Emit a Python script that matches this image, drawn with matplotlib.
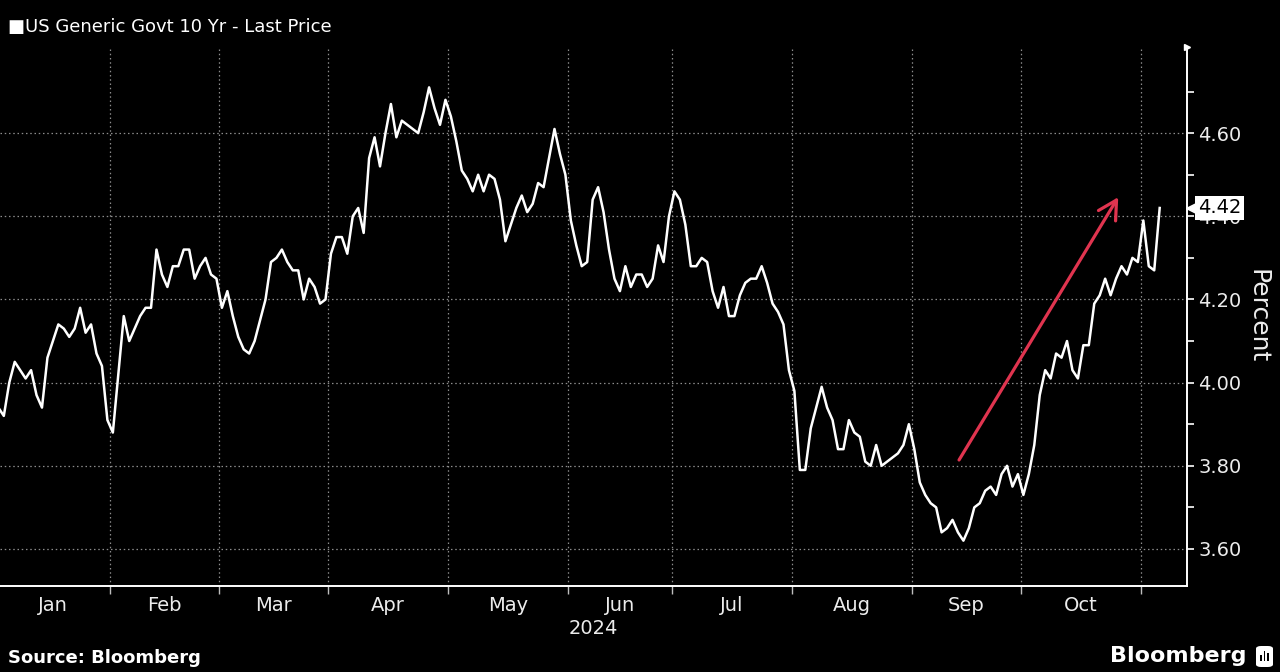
import matplotlib
matplotlib.use("Agg")
import matplotlib.pyplot as plt
import matplotlib.transforms as mtransforms
import numpy as np
import pandas as pd
from matplotlib import font_manager
from matplotlib.patches import FancyBboxPatch, Rectangle
from matplotlib.ticker import FixedLocator, FormatStrFormatter, NullFormatter

# US Generic Govt 10 Yr yield, one value per bond-market trading day
jan = [3.94, 3.92, 4.00, 4.05, 4.03, 4.01, 4.03, 3.97, 3.94, 4.06, 4.10, 4.14, 4.13, 4.11,
       4.13, 4.18, 4.12, 4.14, 4.07, 4.04, 3.91]
feb = [3.88, 4.02, 4.16, 4.10, 4.13, 4.16, 4.18, 4.18, 4.32, 4.26, 4.23, 4.28, 4.28, 4.32,
       4.32, 4.25, 4.28, 4.30, 4.26, 4.25]
mar = [4.18, 4.22, 4.16, 4.11, 4.08, 4.07, 4.10, 4.15, 4.20, 4.29, 4.30, 4.32, 4.29, 4.27,
       4.27, 4.20, 4.25, 4.23, 4.19, 4.20]
apr = [4.31, 4.35, 4.35, 4.31, 4.40, 4.42, 4.36, 4.54, 4.59, 4.52, 4.60, 4.67, 4.59, 4.63,
       4.62, 4.61, 4.60, 4.65, 4.71, 4.66, 4.62, 4.68]
may = [4.64, 4.58, 4.51, 4.49, 4.46, 4.50, 4.46, 4.50, 4.49, 4.44, 4.34, 4.38, 4.42, 4.45,
       4.41, 4.43, 4.48, 4.47, 4.54, 4.61, 4.55, 4.50]
jun = [4.39, 4.33, 4.28, 4.29, 4.44, 4.47, 4.41, 4.32, 4.25, 4.22, 4.28, 4.23, 4.26, 4.26,
       4.23, 4.25, 4.33, 4.29, 4.40]
jul = [4.46, 4.44, 4.38, 4.28, 4.28, 4.30, 4.29, 4.22, 4.18, 4.23, 4.16, 4.16, 4.21, 4.24,
       4.25, 4.25, 4.28, 4.24, 4.19, 4.17, 4.14, 4.03]
aug = [3.98, 3.79, 3.79, 3.89, 3.94, 3.99, 3.94, 3.91, 3.84, 3.84, 3.91, 3.88, 3.87, 3.81,
       3.80, 3.85, 3.80, 3.81, 3.82, 3.83, 3.85, 3.90]
sep = [3.84, 3.76, 3.73, 3.71, 3.70, 3.64, 3.65, 3.67, 3.64, 3.62, 3.65, 3.70, 3.71, 3.74,
       3.75, 3.73, 3.78, 3.80, 3.75, 3.78]
oct = [3.73, 3.78, 3.85, 3.97, 4.03, 4.01, 4.07, 4.06, 4.10, 4.03, 4.01, 4.09, 4.09, 4.19,
       4.21, 4.25, 4.21, 4.25, 4.28, 4.26, 4.30, 4.29]
nov = [4.39, 4.28, 4.27, 4.42]

holidays = ["2024-01-15", "2024-02-19", "2024-03-29", "2024-05-27",
            "2024-06-19", "2024-07-04", "2024-09-02", "2024-10-14"]
month_names = ["Jan", "Feb", "Mar", "Apr", "May", "Jun", "Jul", "Aug", "Sep", "Oct"]

title = "\u25a0US Generic Govt 10 Yr - Last Price"
last_label = "4.42"

yields = jan + feb + mar + apr + may + jun + jul + aug + sep + oct + nov
dates = pd.bdate_range("2024-01-02", "2024-11-06", freq="C", holidays=holidays)
assert len(dates) == len(yields)
idx = np.arange(len(dates))
months = dates.month.values

# month boundaries (between last day of one month and first of next) and centres
bounds = [i - 0.5 for i in range(1, len(idx)) if months[i] != months[i - 1]]
centres = [idx[months == m].mean() for m in range(1, 11)]

# font: a narrow face is closer to the Bloomberg look if it is there
names = {f.name for f in font_manager.fontManager.ttflist}
narrow = "Liberation Sans Narrow" in names
fam = ["Liberation Sans Narrow", "DejaVu Sans"] if narrow else ["DejaVu Sans"]
plt.rcParams["font.family"] = fam
tick_fs = 17 if narrow else 14

fig = plt.figure(figsize=(12.8, 6.72), dpi=100, facecolor="black")
ax = fig.add_axes([0, 0.128, 0.9273, 0.802])
ax.set_facecolor("black")

ax.plot(idx, yields, color="white", lw=1.8, zorder=4)

ax.set_xlim(0.3, 218.0)
ax.set_ylim(3.511, 4.807)

# spines
for s in ["left", "top"]:
    ax.spines[s].set_visible(False)
for s in ["right", "bottom"]:
    ax.spines[s].set_color("white")
    ax.spines[s].set_linewidth(1.4)
ax.plot([1.0], [1.0], marker=">", color="white", markersize=5,
        transform=ax.transAxes, clip_on=False)

# y axis on the right
ax.yaxis.tick_right()
ax.yaxis.set_label_position("right")
ax.yaxis.set_major_locator(FixedLocator(np.arange(3.6, 4.61, 0.2)))
ax.yaxis.set_minor_locator(FixedLocator(np.arange(3.7, 4.71, 0.2)))
ax.yaxis.set_major_formatter(FormatStrFormatter("%.2f"))
ax.tick_params(axis="y", which="both", direction="out", length=5, width=1.2,
               color="white", labelcolor="#ececec", labelsize=tick_fs, pad=3)
ax.set_ylabel("Percent", rotation=270, color="#ececec", fontsize=tick_fs + 4,
              labelpad=20)

# x axis: ticks at month boundaries, labels in the middle of each month
ax.xaxis.set_major_locator(FixedLocator(bounds))
ax.xaxis.set_major_formatter(NullFormatter())
ax.xaxis.set_minor_locator(FixedLocator(centres))
ax.xaxis.set_minor_formatter(matplotlib.ticker.FixedFormatter(month_names))
ax.tick_params(axis="x", which="major", direction="out", length=6, width=1.0,
               color="#bdbdbd")
ax.tick_params(axis="x", which="minor", length=0, pad=7, labelcolor="#ececec",
               labelsize=tick_fs)

ax.grid(True, which="major", color="#8c8c8c", linestyle=(0, (1.2, 2.2)), linewidth=0.9)

# last value tag (it sits over the 4.40 label, as in the original)
tr = mtransforms.blended_transform_factory(ax.transAxes, ax.transData)
ax.plot([1.004], [yields[-1]], marker="<", color="white", markersize=8,
        transform=tr, clip_on=False, zorder=6)
ax.text(1.009, yields[-1], last_label, transform=tr, ha="left", va="center",
        color="black", fontsize=tick_fs, zorder=7, clip_on=False,
        bbox=dict(boxstyle="square,pad=0.14", fc="white", ec="none"))

# red trend arrow
arrow_from = (176.2, 3.814)
arrow_to = (205.4, 4.446)
ax.annotate("", xy=arrow_to, xytext=arrow_from,
            arrowprops=dict(arrowstyle="->,head_length=0.55,head_width=0.3",
                            color="#e0344f", lw=2.3, mutation_scale=24,
                            shrinkA=0, shrinkB=0), zorder=5)

# texts around the plot
fig.text(8 / 1280, 1 - 27 / 672, title, color="white", fontsize=tick_fs - 1,
         va="center", ha="left")
fig.text(593 / 1280, 1 - 629 / 672, "2024", color="#ececec", fontsize=tick_fs,
         va="center", ha="center")
fig.text(8 / 1280, 1 - 658 / 672, "Source: Bloomberg", color="white",
         fontsize=13, fontweight="bold", va="center", ha="left",
         family="DejaVu Sans")
fig.text(1246 / 1280, 1 - 656 / 672, "Bloomberg", color="white", fontsize=16,
         fontweight="bold", va="center", ha="right", family="DejaVu Sans")

# small logo box next to Bloomberg
fig.add_artist(FancyBboxPatch((1256 / 1280, 1 - 667 / 672), 17 / 1280, 21 / 672,
                              boxstyle="round,pad=0,rounding_size=0.004",
                              transform=fig.transFigure, fc="white", ec="none"))
for bx, bh in [(1260, 6), (1263.5, 10), (1267, 8)]:
    fig.add_artist(Rectangle((bx / 1280, 1 - 661 / 672), 1.6 / 1280, bh / 672,
                             transform=fig.transFigure, fc="black", ec="none"))

fig.savefig("out.png", dpi=100, facecolor="black")
